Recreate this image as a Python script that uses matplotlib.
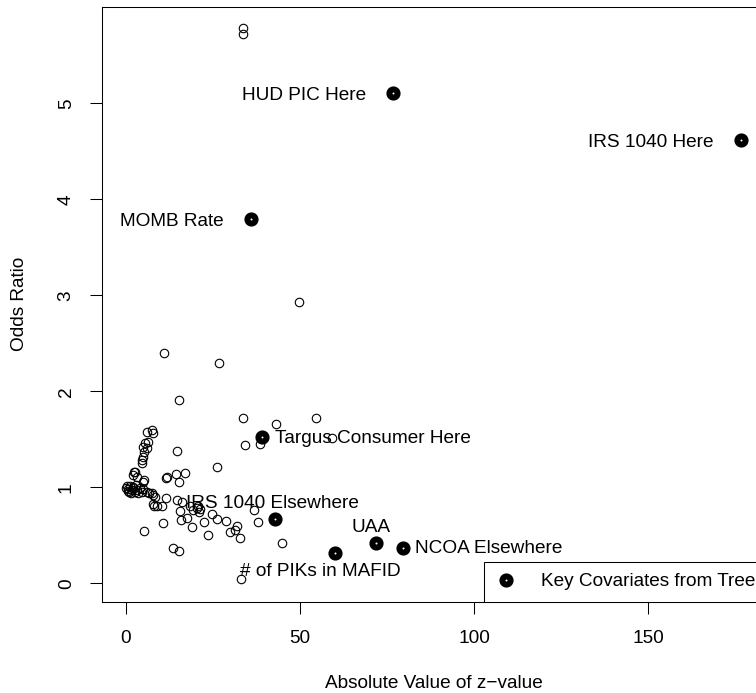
import matplotlib
matplotlib.use("Agg")
import matplotlib.pyplot as plt

plt.rcParams['font.family'] = ['Liberation Sans', 'DejaVu Sans']

# All covariates (open circles): absolute z-value, odds ratio
z_all = [33.7, 33.7, 49.7, 11.0, 26.7, 15.2,
         33.6, 54.5, 43.0, 38.4, 34.1, 59.3,
         6.1, 7.4, 7.7, 5.5, 6.4, 5.0, 6.0, 5.3, 5.0, 4.7, 4.5,
         14.7, 26.1,
         2.6, 2.3, 2.1, 3.1, 5.3, 5.0,
         11.7, 11.4, 14.3, 17.0, 15.3,
         0.0, 0.2, 0.7, 1.1, 1.6, 2.1, 2.6, 3.1, 3.5, 4.0, 4.5, 5.0, 6.0, 6.6,
         7.4, 7.9, 8.3, 7.9, 8.8, 10.3, 0.5, 1.3, 1.9, 3.0, 0.9,
         11.6, 14.6, 16.0, 18.4, 19.3, 20.3, 21.1, 21.3, 20.8, 15.5, 10.5,
         15.7, 17.4, 19.1, 22.3, 24.6, 26.1, 28.6, 23.7, 29.9, 31.3, 32.0,
         32.8, 36.9, 38.0, 44.7, 33.1, 5.3, 13.6, 15.3, 8.0]
or_all = [5.78, 5.72, 2.93, 2.40, 2.29, 1.91,
          1.72, 1.72, 1.66, 1.455, 1.445, 1.51,
          1.58, 1.60, 1.57, 1.46, 1.47, 1.42, 1.41, 1.37, 1.32, 1.28, 1.25,
          1.38, 1.21,
          1.16, 1.16, 1.13, 1.11, 1.08, 1.05,
          1.11, 1.10, 1.135, 1.145, 1.05,
          0.99, 1.01, 0.98, 1.01, 0.97, 1.00, 0.95, 0.97, 0.94, 0.99, 0.95, 0.98, 0.95, 0.94,
          0.94, 0.92, 0.90, 0.83, 0.80, 0.80, 0.96, 0.94, 0.99, 1.02, 0.95,
          0.885, 0.87, 0.85, 0.80, 0.76, 0.78, 0.745, 0.77, 0.80, 0.755, 0.63,
          0.66, 0.68, 0.59, 0.64, 0.72, 0.67, 0.65, 0.50, 0.53, 0.555, 0.60,
          0.475, 0.76, 0.64, 0.42, 0.045, 0.54, 0.37, 0.34, 0.81]

# Key covariates from tree
key_names = ["HUD PIC Here", "IRS 1040 Here", "MOMB Rate", "Targus Consumer Here",
             "IRS 1040 Elsewhere", "UAA", "NCOA Elsewhere", "# of PIKs in MAFID"]
key_z = [76.8, 176.6, 35.9, 39.0, 42.8, 71.9, 79.6, 60.1]
key_or = [5.11, 4.62, 3.79, 1.524, 0.667, 0.423, 0.371, 0.319]

x_ticks = [0, 50, 100, 150]
y_ticks = [0, 1, 2, 3, 4, 5]

W, H = 756, 693
fig = plt.figure(figsize=(W / 100, H / 100), dpi=100)
L, R, T, B = 101.7, 767.0, 6.7, 601.7
ax = fig.add_axes([L / W, 1 - B / H, (R - L) / W, (B - T) / H])

FS = 13.7
ax.plot(z_all, or_all, 'o', mfc='none', mec='black', ms=6.1, mew=0.8, ls='none')
ax.plot(key_z, key_or, 'o', mfc='white', mec='black', ms=5.9, mew=4.3, ls='none',
        label="Key Covariates from Tree")

# label placement (pixel offsets converted to points), baseline-aligned
px = 0.72
label_style = {
    "HUD PIC Here": (-27, -6.8, 'right'),
    "IRS 1040 Here": (-27, -6.8, 'right'),
    "MOMB Rate": (-27, -6.8, 'right'),
    "Targus Consumer Here": (13.3, -5.8, 'left'),
    "IRS 1040 Elsewhere": (-2.5, 10.8, 'center'),
    "UAA": (-5.5, 10.9, 'center'),
    "NCOA Elsewhere": (12.5, -5.8, 'left'),
    "# of PIKs in MAFID": (-15, -23.1, 'center'),
}
for name, zx, oy in zip(key_names, key_z, key_or):
    dx, dy, ha = label_style[name]
    ax.annotate(name, (zx, oy), xytext=(dx * px, dy * px), textcoords='offset points',
                ha=ha, va='baseline', fontsize=FS, color='black')

ax.set_xlim(-6.98, 184.2)
ax.set_ylim(-0.1917, 6.006)
ax.set_xticks(x_ticks)
ax.set_yticks(y_ticks)
ax.set_xticklabels([str(v) for v in x_ticks])
ax.set_yticklabels([str(v) for v in y_ticks])
for s in ax.spines.values():
    s.set_linewidth(0.75)
ax.tick_params(axis='both', direction='out', length=8.4, width=0.75, labelsize=FS,
               colors='black')
ax.tick_params(axis='x', pad=12)
ax.tick_params(axis='y', pad=11)
for lab in ax.get_yticklabels():
    lab.set_rotation(90)
    lab.set_va('center')

leg = ax.legend(loc='lower right', bbox_to_anchor=(1, 0), borderaxespad=0,
                fontsize=FS, fancybox=False, edgecolor='black', framealpha=1,
                borderpad=0.6, handlelength=1.15, handletextpad=1.25, numpoints=1)
leg.get_frame().set_linewidth(0.75)

fig.text(433.5 / W, 1 - 683.3 / H, "Absolute Value of z\u2212value", ha='center', va='center',
         fontsize=FS)
fig.text(20 / W, 1 - 304 / H, "Odds Ratio", ha='center', va='center', rotation=90,
         fontsize=FS)

fig.savefig("out.png", dpi=100)
